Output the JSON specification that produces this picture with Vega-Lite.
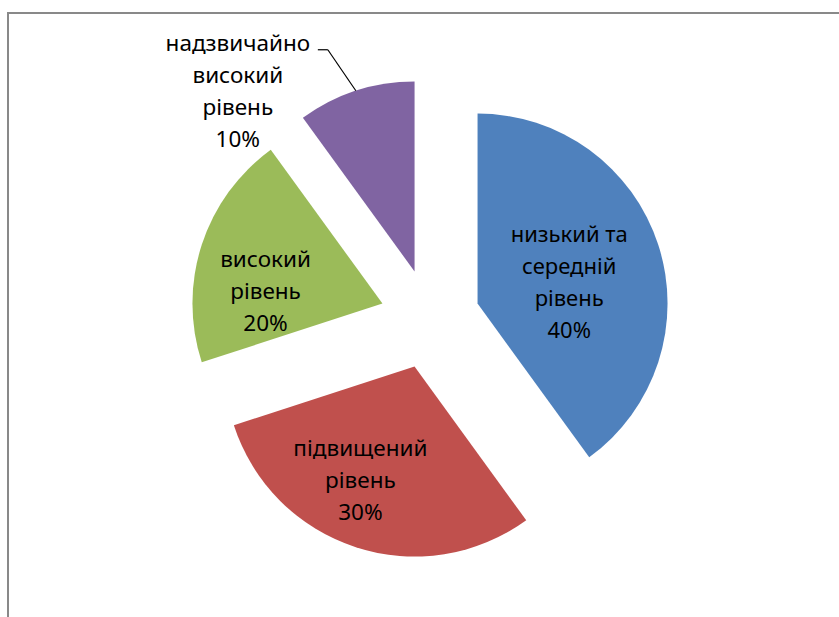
{
  "$schema": "https://vega.github.io/schema/vega-lite/v6.json",
  "width": 839,
  "height": 617,
  "autosize": {"type": "fit", "contains": "padding"},
  "padding": {"left": 8, "top": 13, "right": -5, "bottom": -5},
  "background": "white",
  "config": {
    "view": {"stroke": "#898989", "strokeWidth": 2},
    "text": {"font": "Noto Sans"}
  },
  "data": {
    "values": [
      {"category": "низький та середній рівень", "label": "низький та|середній|рівень", "value": 40},
      {"category": "підвищений рівень", "label": "підвищений|рівень", "value": 30},
      {"category": "високий рівень", "label": "високий|рівень", "value": 20},
      {"category": "надзвичайно високий рівень", "label": "надзвичайно|високий|рівень", "value": 10}
    ]
  },
  "transform": [
    {"window": [{"op": "sum", "field": "value", "as": "end"}], "frame": [null, 0]},
    {"calculate": "datum.end - datum.value", "as": "start"},
    {"calculate": "(datum.start + datum.end) / 2 * PI / 50", "as": "ang"},
    {"calculate": "50 * sin(datum.ang)", "as": "ex"},
    {"calculate": "50 * cos(datum.ang)", "as": "ey"},
    {"calculate": "datum.label + '|' + datum.value + '%'", "as": "txt"}
  ],
  "encoding": {
    "x": {"field": "ex", "type": "quantitative", "scale": {"domain": [-422, 414], "nice": false, "zero": false}, "axis": null},
    "y": {"field": "ey", "type": "quantitative", "scale": {"domain": [-303, 306], "nice": false, "zero": false}, "axis": null}
  },
  "layer": [
    {
      "mark": {"type": "arc", "radius": 190},
      "encoding": {
        "theta": {"field": "start", "type": "quantitative", "stack": null, "scale": {"domain": [0, 100]}},
        "theta2": {"field": "end"},
        "color": {
          "field": "category",
          "type": "nominal",
          "scale": {
            "domain": ["низький та середній рівень", "підвищений рівень", "високий рівень", "надзвичайно високий рівень"],
            "range": ["#4F81BD", "#C0504D", "#9BBB59", "#8064A2"]
          },
          "legend": null
        }
      }
    },
    {
      "transform": [{"filter": "datum.category === 'низький та середній рівень'"}],
      "mark": {"type": "text", "radius": 94, "dy": -48, "lineBreak": "|", "fontSize": 22, "lineHeight": 32, "align": "center", "baseline": "middle", "color": "#000000"},
      "encoding": {"theta": {"value": 1.346}, "text": {"field": "txt"}}
    },
    {
      "transform": [{"filter": "datum.category === 'підвищений рівень'"}],
      "mark": {"type": "text", "radius": 127, "dy": -32, "lineBreak": "|", "fontSize": 22.5, "lineHeight": 32, "align": "center", "baseline": "middle", "color": "#000000"},
      "encoding": {"theta": {"value": 3.582}, "text": {"field": "txt"}}
    },
    {
      "transform": [{"filter": "datum.category === 'високий рівень'"}],
      "mark": {"type": "text", "radius": 120, "dy": -16, "lineBreak": "|", "fontSize": 22.5, "lineHeight": 32, "align": "center", "baseline": "middle", "color": "#000000"},
      "encoding": {"theta": {"value": 4.94}, "text": {"field": "txt"}}
    },
    {
      "transform": [{"filter": "datum.category === 'надзвичайно високий рівень'"}],
      "mark": {"type": "text", "radius": 252, "dy": -48, "lineBreak": "|", "fontSize": 22.5, "lineHeight": 32, "align": "center", "baseline": "middle", "color": "#000000"},
      "encoding": {"theta": {"value": 5.506}, "text": {"field": "txt"}}
    },
    {
      "transform": [
        {"filter": "datum.category === 'надзвичайно високий рівень'"},
        {"calculate": "datum.ex + 190 * sin(datum.ang)", "as": "px"},
        {"calculate": "datum.ey + 190 * cos(datum.ang)", "as": "py"},
        {"calculate": "datum.px - 28", "as": "kx"},
        {"calculate": "datum.py + 41", "as": "ky"}
      ],
      "mark": {"type": "rule", "color": "#000000", "strokeWidth": 1.2},
      "encoding": {
        "x": {"field": "kx", "type": "quantitative", "scale": {"domain": [-422, 414], "nice": false, "zero": false}, "axis": null},
        "y": {"field": "ky", "type": "quantitative", "scale": {"domain": [-303, 306], "nice": false, "zero": false}, "axis": null},
        "x2": {"field": "px"},
        "y2": {"field": "py"}
      }
    },
    {
      "transform": [
        {"filter": "datum.category === 'надзвичайно високий рівень'"},
        {"calculate": "datum.ex + 190 * sin(datum.ang) - 28", "as": "kx"},
        {"calculate": "datum.ey + 190 * cos(datum.ang) + 41", "as": "ky"},
        {"calculate": "datum.kx - 10", "as": "sx"}
      ],
      "mark": {"type": "rule", "color": "#000000", "strokeWidth": 1.2},
      "encoding": {
        "x": {"field": "sx", "type": "quantitative", "scale": {"domain": [-422, 414], "nice": false, "zero": false}, "axis": null},
        "y": {"field": "ky", "type": "quantitative", "scale": {"domain": [-303, 306], "nice": false, "zero": false}, "axis": null},
        "x2": {"field": "kx"},
        "y2": {"field": "ky"}
      }
    }
  ]
}
